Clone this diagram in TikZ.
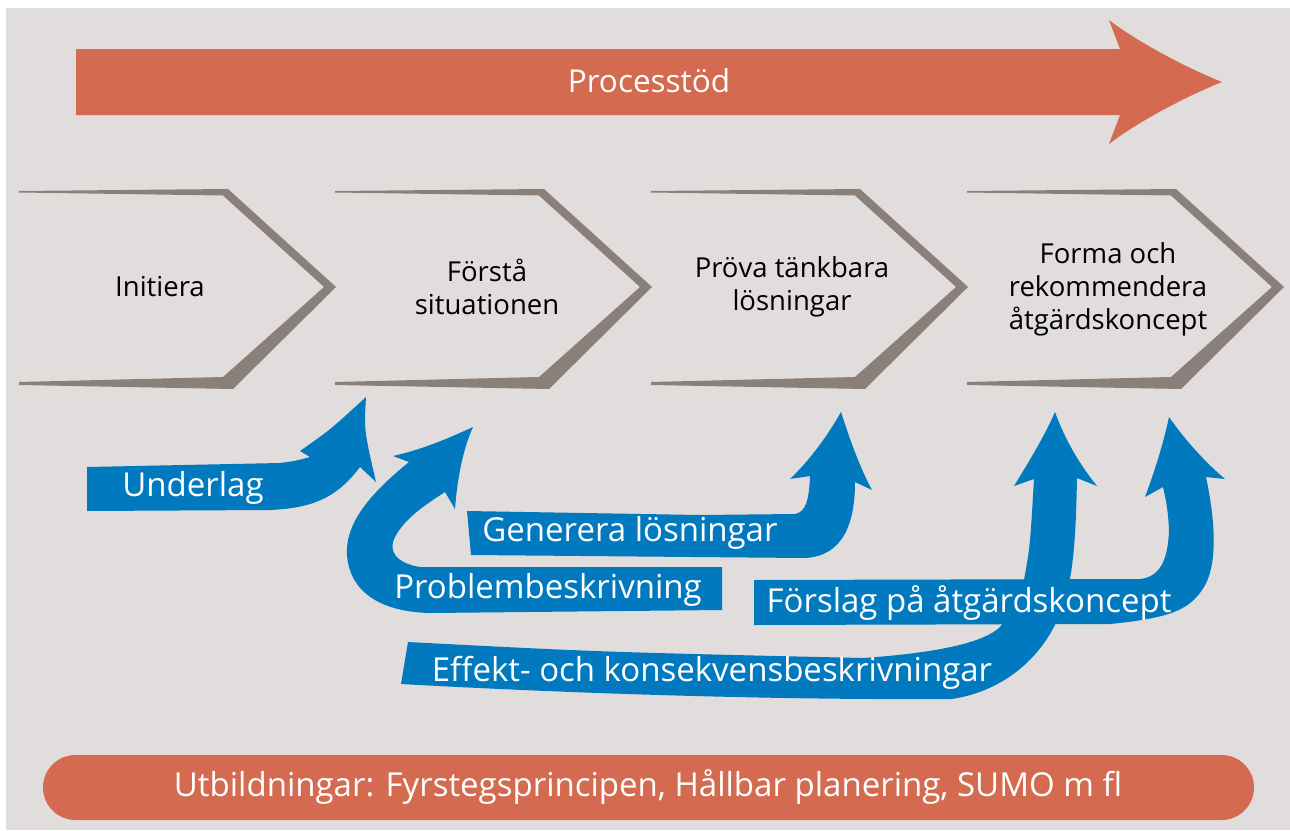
\documentclass[tikz,border=0pt]{standalone}
\usepackage{fontspec}
\setmainfont{Open Sans}
\usetikzlibrary{positioning}
\definecolor{bggrey}{RGB}{224,221,220}
\definecolor{chevgrey}{RGB}{138,127,121}
\definecolor{procorange}{RGB}{212,106,79}
\definecolor{flowblue}{RGB}{0,121,191}

\begin{document}
\begin{tikzpicture}[x=1pt,y=-1pt,
    steplabel/.style={align=center,font=\fontsize{27.5}{33}\selectfont},
    flowlabel/.style={text=white,font=\fontsize{33}{38}\selectfont},
    barlabel/.style={text=white,font=\fontsize{33}{38}\selectfont}]
    \useasboundingbox (0,0) rectangle (1290,830);
    \fill[bggrey] (6,8) rectangle (1290,830);

    % Processtöd
    \fill[procorange] (76,49) -- (1120,49) -- (1109,20) .. controls (1135,40) and (1180,65) .. (1222,82)
        .. controls (1180,99) and (1135,124) .. (1109,144) -- (1120,115) -- (76,115) -- cycle;
    \node[barlabel,font=\fontsize{31.5}{38}\selectfont] (process) at (649,81) {Processtöd};

    % steg
    \foreach \x in {19,335,651,967} {
        \fill[chevgrey] (\x,191) -- (\x+209,189) -- (\x+317,287) -- (\x+214,389) -- (\x,385)
            -- (\x,382) -- (\x+204,377) -- (\x+305,287) -- (\x+204,195.5) -- (\x,192.5) -- cycle;
    }
    \node[steplabel] (initiera) at (160,287) {Initiera};
    \node[steplabel] (forsta) at (487,287) {Förstå\\situationen};
    \node[steplabel] (prova) at (792,287) {Pröva tänkbara\\lösningar};
    \node[steplabel] (forma) at (1108,289) {Forma och\\rekommendera\\åtgärdskoncept};

    % blå pilar
    \fill[flowblue] (87,467) -- (280,463) .. controls (295,461) .. (310,457) -- (300,451)
        .. controls (330,430) .. (366,397) .. controls (364,430) .. (376,482) -- (360,467)
        .. controls (335,500) and (310,508) .. (270,510) -- (87,511) -- cycle;
    \fill[flowblue] (722,567) -- (420,567) .. controls (395,563) and (388,550) .. (395,537)
        .. controls (405,518) and (425,505) .. (445,492) -- (455,509)
        .. controls (458,470) and (465,445) .. (473,427) .. controls (445,440) and (420,450) .. (393,456)
        -- (409,462) .. controls (375,490) and (345,520) .. (347,555)
        .. controls (350,595) and (385,612) .. (430,613) -- (722,610) -- cycle;
    \fill[flowblue] (467,511) -- (700,515) -- (795,514) .. controls (806,512) and (809,500) .. (810,476)
        -- (790,479) .. controls (810,460) and (828,435) .. (841,412)
        .. controls (850,440) and (860,468) .. (872,490) -- (855,482)
        .. controls (855,520) and (845,556) .. (805,558) -- (471,555) -- cycle;
    \fill[flowblue] (754,580) -- (1140,579) .. controls (1160,577) and (1168,560) .. (1169,530)
        .. controls (1168,510) and (1166,500) .. (1163,487) -- (1145,497)
        .. controls (1155,470) and (1163,445) .. (1169,417) .. controls (1185,440) and (1205,462) .. (1225,479)
        -- (1206,477) .. controls (1213,510) and (1220,560) .. (1204,587)
        .. controls (1190,610) and (1170,618) .. (1110,624) -- (754,625) -- cycle;
    \fill[flowblue] (408,642) .. controls (600,652) .. (863,658) .. controls (950,652) and (985,640) .. (999,628)
        .. controls (1015,610) and (1022,595) .. (1024,580) .. controls (1030,547) .. (1034,479)
        -- (1014,486) .. controls (1030,460) and (1045,435) .. (1055,412)
        .. controls (1065,440) and (1080,465) .. (1097,486) -- (1077,478)
        .. controls (1076,530) and (1074,570) .. (1065,600) .. controls (1050,650) and (1010,690) .. (952,699)
        .. controls (800,700) and (600,695) .. (401,684) -- cycle;
    \node[flowlabel] (underlag) at (193,488) {Underlag};
    \node[flowlabel] (problem) at (548,590) {Problembeskrivning};
    \node[flowlabel] (generera) at (630,533) {Generera lösningar};
    \node[flowlabel] (forslag) at (969,603) {Förslag på åtgärdskoncept};
    \node[flowlabel] (effekt) at (712,673) {Effekt- och konsekvensbeskrivningar};

    % utbildningar
    \fill[procorange, rounded corners=32.5] (43,755) rectangle (1254,820);
    \node[barlabel] (utbildning) at (648,787) {Utbildningar: Fyrstegsprincipen, Hållbar planering, SUMO m fl};
\end{tikzpicture}
\end{document}
